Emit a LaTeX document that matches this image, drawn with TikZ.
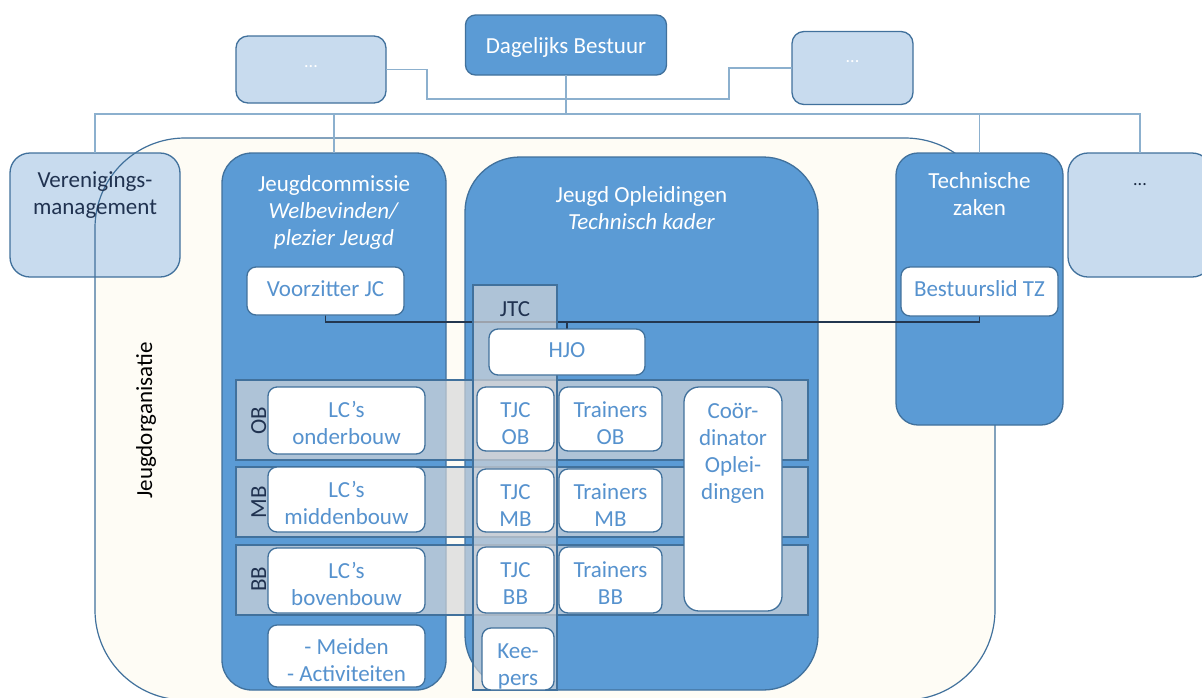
\documentclass[tikz,border=0pt]{standalone}
\usepackage{fontspec}
\setmainfont{Carlito}
\usetikzlibrary{calc}
\definecolor{mid}{RGB}{91,155,213}
\definecolor{bord}{RGB}{65,113,156}
\definecolor{lightb}{RGB}{200,219,238}
\definecolor{cream}{RGB}{254,252,245}
\definecolor{bandg}{RGB}{214,214,216}
\definecolor{busc}{RGB}{140,176,206}
\definecolor{linkc}{RGB}{35,55,80}
\definecolor{txtblue}{RGB}{86,146,206}
\definecolor{navy}{RGB}{32,50,80}
\pgfdeclarelayer{back}
\pgfdeclarelayer{links}
\pgfsetlayers{back,links,main}
\newcommand{\fsz}{\fontsize{23}{27}\selectfont}
\newcommand{\fsm}{\fontsize{18}{22}\selectfont}
\newcommand{\mytext}[5]{\node[#1,anchor=north,align=center,inner sep=0pt] (#2) at (#3,#4-20) {\rule{0pt}{20pt}#5};}
\begin{document}
\begin{tikzpicture}[x=1pt,y=-1pt,
  box/.style={rectangle,inner sep=0pt,outer sep=0pt,line width=1.3pt,draw=bord},
  dark/.style={box,fill=mid},
  light/.style={box,fill=lightb},
  wbox/.style={box,fill=white,rounded corners=9pt},
  band/.style={rectangle,inner sep=0pt,outer sep=0pt,draw=bord,line width=1.2pt,fill=bandg,fill opacity=0.68},
  busline/.style={draw=busc,line width=1.3pt},
  link/.style={draw=linkc,line width=1.1pt},
  wt/.style={text=white,font=\fsz},
  bt/.style={text=txtblue,font=\fsz},
  nt/.style={text=navy,font=\fsz},
]
\useasboundingbox (0,0) rectangle (1202,697);
\begin{pgfonlayer}{back}
\fill[white] (0,0) rectangle (1202,697);
\node[fill=cream,rounded corners=90pt,minimum width=900pt,minimum height=562pt,inner sep=0pt,outer sep=0pt] (orgfill) at (545,419) {};
\node[light,rounded corners=20pt,minimum width=170pt,minimum height=124pt] (ver) at (95,215) {};
\node[draw=bord,line width=1.2pt,rounded corners=90pt,minimum width=900pt,minimum height=562pt,inner sep=0pt,outer sep=0pt] (org) at (545,419) {};
\node[light,rounded corners=20pt,minimum width=144pt,minimum height=124pt] (rb) at (1140,215) {};
\node[light,rounded corners=12pt,minimum width=150pt,minimum height=67pt] (ld) at (311,69.5) {};
\node[light,rounded corners=12pt,minimum width=121pt,minimum height=73pt] (rd) at (852.5,68) {};
\node[dark,rounded corners=10pt,minimum width=201pt,minimum height=60pt] (db) at (566,45) {};
\node[dark,rounded corners=30pt,minimum width=224pt,minimum height=537pt] (jc) at (334,421.5) {};
\node[dark,rounded corners=55pt,minimum width=353pt,minimum height=533pt] (jo) at (641.5,423.5) {};
\node[dark,rounded corners=22pt,minimum width=167pt,minimum height=272pt] (tz) at (979.5,289) {};
\coordinate (busL) at (95,114);
\coordinate (k1) at (427,99);
\coordinate (k2) at (729,99);
\draw[busline] (ver.north) |- (rb.north |- busL) -- (rb.north);
\draw[busline] (db.south) -- (db.south |- busL);
\draw[busline] (jc.north) -- (jc.north |- busL);
\draw[busline] (tz.north) -- (tz.north |- busL);
\draw[busline] (ld.east) -| (k1) -- (k2) |- (rd.west);
\end{pgfonlayer}
% bands and column
\node[band,minimum width=572pt,minimum height=80pt] (bOB) at (522,420) {};
\node[band,minimum width=572pt,minimum height=70pt] (bMB) at (522,502) {};
\node[band,minimum width=572pt,minimum height=70pt] (bBB) at (522,580) {};
\node[band,minimum width=84pt,minimum height=405pt] (jtc) at (515,487.5) {};
% white boxes
\node[wbox,minimum width=157pt,minimum height=48pt] (vz) at (325.5,291) {};
\node[wbox,minimum width=157pt,minimum height=49pt] (bst) at (979.5,291.5) {};
\node[wbox,minimum width=156pt,minimum height=46pt] (hjo) at (567,352) {};
\node[wbox,minimum width=157pt,minimum height=67pt] (lcOB) at (346.5,420.5) {};
\node[wbox,minimum width=157pt,minimum height=65pt] (lcMB) at (346.5,499.5) {};
\node[wbox,minimum width=157pt,minimum height=65pt] (lcBB) at (346.5,580.5) {};
\node[wbox,minimum width=157pt,minimum height=62pt] (mei) at (346.5,656) {};
\node[wbox,minimum width=77pt,minimum height=64pt] (tjOB) at (515.5,419) {};
\node[wbox,minimum width=77pt,minimum height=63pt] (tjMB) at (515.5,500.5) {};
\node[wbox,minimum width=77pt,minimum height=66pt] (tjBB) at (515.5,580) {};
\node[wbox,minimum width=72pt,minimum height=62pt] (kee) at (518,659) {};
\node[wbox,minimum width=103pt,minimum height=64pt] (trOB) at (610.5,419) {};
\node[wbox,minimum width=103pt,minimum height=63pt] (trMB) at (610.5,500.5) {};
\node[wbox,minimum width=103pt,minimum height=66pt] (trBB) at (610.5,580) {};
\node[wbox,rounded corners=15pt,minimum width=98pt,minimum height=224pt] (coo) at (733,499) {};
% connectors
\begin{pgfonlayer}{links}
\coordinate (hjotop) at ([yshift=7pt]hjo.north);
\draw[link] (vz.south) |- (hjotop) -- (hjo.north);
\draw[link] (bst.south) |- (hjotop);
\end{pgfonlayer}
% texts
\mytext{wt}{tdb}{566}{53}{Dagelijks Bestuur}
\mytext{text=white,font=\fsm}{tld}{311}{67}{...}
\mytext{text=white,font=\fsm}{trd}{852.5}{62}{...}
\mytext{text=navy!80!black,font=\fsm}{trb}{1140}{185}{...}
\mytext{nt}{tver}{95}{187}{Verenigings-\\management}
\mytext{wt}{tjc}{334}{191}{Jeugdcommissie\\\textit{Welbevinden/}\\\textit{plezier Jeugd}}
\mytext{wt}{tjo}{641.5}{202}{Jeugd Opleidingen\\\textit{Technisch kader}}
\mytext{wt}{ttz}{979.5}{188}{Technische\\zaken}
\mytext{bt}{tvz}{325.5}{296}{Voorzitter JC}
\mytext{bt}{tbst}{979.5}{296}{Bestuurslid TZ}
\mytext{bt}{thjo}{567}{357}{HJO}
\mytext{nt}{tjtc}{515}{316}{JTC}
\mytext{bt}{tlcOB}{346.5}{417}{LC’s\\onderbouw}
\mytext{bt}{tlcMB}{346.5}{497}{LC’s\\middenbouw}
\mytext{bt}{tlcBB}{346.5}{578}{LC’s\\bovenbouw}
\mytext{bt}{tmei}{346.5}{654}{- Meiden\\- Activiteiten}
\mytext{bt}{ttjOB}{515.5}{417}{TJC\\OB}
\mytext{bt}{ttjMB}{515.5}{499}{TJC\\MB}
\mytext{bt}{ttjBB}{515.5}{577}{TJC\\BB}
\mytext{bt}{tkee}{518}{658}{Kee-\\pers}
\mytext{bt}{ttrOB}{610.5}{417}{Trainers\\OB}
\mytext{bt}{ttrMB}{610.5}{499}{Trainers\\MB}
\mytext{bt}{ttrBB}{610.5}{577}{Trainers\\BB}
\mytext{bt}{tcoo}{733}{418}{Coör-\\dinator\\Oplei-\\dingen}
\node[rotate=90,anchor=base,font=\fsz,text=black,inner sep=0pt] (torg) at (152,420.5) {Jeugdorganisatie};
\node[rotate=90,anchor=base,nt,inner sep=0pt] (tOB) at (266,420.5) {OB};
\node[rotate=90,anchor=base,nt,inner sep=0pt] (tMB) at (266,502) {MB};
\node[rotate=90,anchor=base,nt,inner sep=0pt] (tBB) at (266,579) {BB};
\end{tikzpicture}
\end{document}
